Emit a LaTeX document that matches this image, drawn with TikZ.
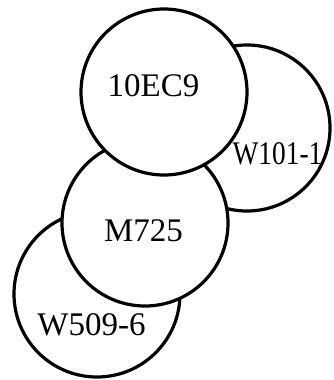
\documentclass[tikz,border=0pt]{standalone}
\usepackage{fontspec}
\setmainfont{Liberation Serif}
\begin{document}
\begin{tikzpicture}[x=1pt,y=-1pt,
  blob/.style={circle,draw=black,line width=3.2pt,fill=white,minimum size=166pt,inner sep=0pt},
  lbl/.style={font=\fontsize{33}{38}\selectfont,inner sep=0pt}]
\useasboundingbox (0,0) rectangle (333,380);
\node[blob] (w101) at (247,128) {};
\node[blob] (w509) at (97,294) {};
\node[blob] (m725) at (145,223) {};
\node[blob] (ec9) at (164,92) {};
\node[lbl] (tec9) at (153.5,86) {10EC9};
\node[lbl] (tw101) at (277.5,154) {\scalebox{0.83}[1]{W101-1}};
\node[lbl] (tm725) at (143.5,230.5) {M725};
\node[lbl] (tw509) at (91.5,324.5) {W509-6};
\end{tikzpicture}
\end{document}
